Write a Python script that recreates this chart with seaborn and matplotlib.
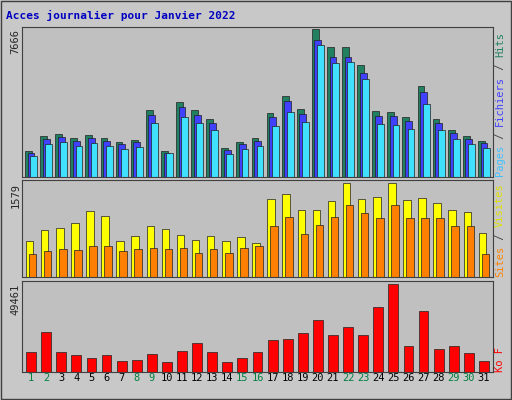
import matplotlib
matplotlib.use("Agg")
import matplotlib.pyplot as plt
import seaborn as sns
import numpy as np

days = list(range(1, 32))
weekend = [1, 2, 8, 9, 15, 16, 22, 23, 29, 30]
hits = [1356,2138,2243,2034,2190,2034,1825,1930,3494,1356,3911,3494,3025,1512,1825,2034,3338,4224,3546,7666,6727,6727,5789,3442,3390,3129,4746,3025,2451,2138,1877]
files = [1250,1980,2080,1880,2030,1880,1690,1790,3240,1250,3620,3240,2800,1400,1690,1880,3090,3920,3290,7120,6240,6240,5370,3190,3140,2900,4400,2800,2270,1980,1740]
pages = [1090,1710,1800,1630,1750,1630,1460,1540,2800,1250,3130,2800,2420,1210,1460,1630,2670,3380,2840,6830,5900,5950,5100,2750,2710,2500,3800,2420,1960,1710,1500]
visits = [605,790,823,907,1109,1025,605,689,857,806,706,622,689,605,672,571,1310,1394,1126,1126,1277,1579,1310,1344,1579,1294,1327,1243,1126,1092,739]
sites = [386,437,470,454,521,521,437,470,487,470,487,403,470,403,487,521,857,1008,722,874,1008,1210,1075,991,1210,991,991,991,857,857,386]
kb = [11240,22480,11240,9554,7868,9554,6182,6744,10116,5620,11802,16298,11240,5620,7868,11240,17984,18546,21918,29224,20794,25290,20794,36530,49461,14612,34282,12926,14612,10678,6182]

sns.set_style("white")
plt.rcParams['font.family'] = ['DejaVu Sans Mono']
bg = "#c0c0c0"
fig = plt.figure(figsize=(5.12, 4.0), dpi=100, facecolor="#c8c8c8")
x = np.array(days)
L, W = 22/512, 471/512
ax1 = fig.add_axes([L, 1-177/400, W, 150/400])
ax2 = fig.add_axes([L, 1-277/400, W, 97/400])
ax3 = fig.add_axes([L, 1-372/400, W, 91/400])
for ax in (ax1, ax2, ax3):
    ax.set_facecolor(bg)
    ax.set_xlim(0.4, 31.6)
    for s in ax.spines.values():
        s.set_color("#404040"); s.set_linewidth(0.8)
    ax.tick_params(length=0, labelsize=7.5, pad=1)

ek = dict(edgecolor="#202020", linewidth=0.5)
ax1.bar(x-0.17, hits, width=0.45, color="#208060", **ek)
ax1.bar(x, files, width=0.45, color="#4040ff", **ek)
ax1.bar(x+0.17, pages, width=0.45, color="#40e0ff", **ek)
ax1.set_ylim(0, 7666*1.015)
ax1.set_yticks([7666]); ax1.set_yticklabels(["7666"], rotation=90, va="top")

ax2.bar(x-0.1, visits, width=0.5, color="#ffff00", **ek)
ax2.bar(x+0.1, sites, width=0.5, color="#ff8000", **ek)
ax2.set_ylim(0, 1579*1.03)
ax2.set_yticks([1579]); ax2.set_yticklabels(["1579"], rotation=90, va="top")

ax3.bar(x, kb, width=0.65, color="#ff0000", **ek)
ax3.set_ylim(0, 49461*1.03)
ax3.set_yticks([49461]); ax3.set_yticklabels(["49461"], rotation=90, va="top")

for ax in (ax1, ax2):
    ax.set_xticks([])
ax3.set_xticks(days)
ax3.set_xticklabels([str(d) for d in days])
for lab, d in zip(ax3.get_xticklabels(), days):
    lab.set_color("#008040" if d in weekend else "black")

fig.text(6/512, 1-15/400, "Acces journalier pour Janvier 2022", color="#0000c0",
         fontsize=8, fontweight="bold", va="center")

def vlabel(pieces, ybot_px, fs=7.5):
    adv = 0.602*fs*100/72
    y = ybot_px
    for txt, col in pieces:
        fig.text(500/512, 1-y/400, txt, color=col, fontsize=fs, rotation=90,
                 ha="center", va="bottom")
        y -= adv*len(txt)

vlabel([("Pages", "#40c0ff"), (" / ", "#404040"), ("Fichiers", "#4040ff"),
        (" / ", "#404040"), ("Hits", "#208060")], 176)
vlabel([("Sites", "#ff8000"), (" / ", "#404040"), ("Visites", "#e0e000")], 277)
vlabel([("Ko F", "#ff0000")], 372)

rect = plt.Rectangle((0.002, 0.002), 0.996, 0.996, transform=fig.transFigure,
                     fill=False, edgecolor="#404040", linewidth=1)
fig.add_artist(rect)
fig.savefig("out.png", dpi=100, facecolor=fig.get_facecolor())
